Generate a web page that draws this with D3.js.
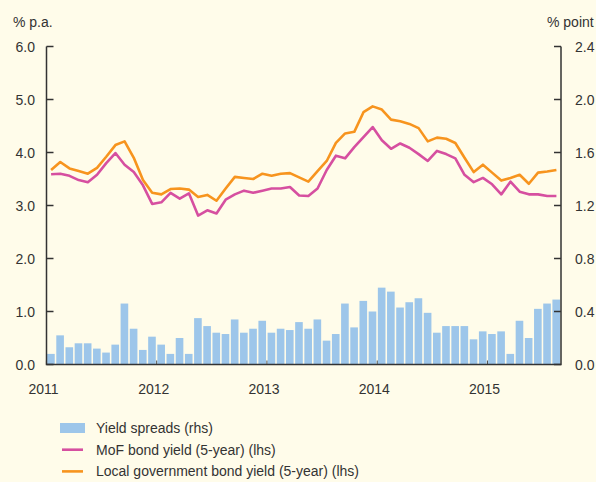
<!DOCTYPE html>
<meta charset='utf-8'>
<style>
html, body {
  margin: 0;
  padding: 0;
  background: #fffcea;
}
svg text {
  font-family: 'Liberation Sans', Arial, sans-serif;
  font-size: 14px;
  fill: #333;
}
</style>
<body>
<div id='chart'></div>
<script src='https://cdn.jsdelivr.net/npm/d3@7/dist/d3.min.js'></script>
<script>

// monthly, Jan 2011 - Aug 2015
var months = d3.range(56).map(function(i) { return new Date(2011, i, 1); });

var spreads = [0.08,0.22,0.13,0.16,0.16,0.12,0.09,0.15,0.46,0.27,
  0.11,0.21,0.15,0.08,0.20,0.08,0.35,0.29,0.24,0.23,
  0.34,0.24,0.27,0.33,0.24,0.27,0.26,0.32,0.27,0.34,
  0.18,0.23,0.46,0.28,0.48,0.40,0.58,0.55,0.43,0.47,
  0.50,0.39,0.24,0.29,0.29,0.29,0.19,0.25,0.23,0.25,
  0.08,0.33,0.20,0.42,0.46,0.49];

var mof = [3.59,3.60,3.56,3.48,3.44,3.58,3.80,3.99,3.77,3.63,
  3.38,3.03,3.06,3.24,3.13,3.23,2.81,2.91,2.85,3.11,
  3.21,3.28,3.24,3.28,3.32,3.32,3.35,3.19,3.18,3.32,
  3.67,3.94,3.89,4.10,4.29,4.48,4.23,4.07,4.17,4.09,
  3.97,3.84,4.03,3.97,3.89,3.58,3.44,3.52,3.40,3.21,
  3.45,3.26,3.21,3.21,3.18,3.18];

var local = [3.67,3.82,3.70,3.65,3.60,3.71,3.92,4.14,4.21,3.90,
  3.48,3.24,3.21,3.31,3.32,3.30,3.16,3.20,3.09,3.32,
  3.54,3.52,3.50,3.60,3.56,3.60,3.61,3.53,3.45,3.65,
  3.84,4.18,4.36,4.39,4.76,4.87,4.81,4.62,4.59,4.54,
  4.46,4.21,4.28,4.26,4.18,3.90,3.63,3.77,3.62,3.47,
  3.52,3.58,3.41,3.62,3.64,3.67];

var leftTicks = [0, 1, 2, 3, 4, 5, 6];
var rightTicks = [0, 0.4, 0.8, 1.2, 1.6, 2.0, 2.4];
var yearTicks = [2011, 2012, 2013, 2014, 2015];

var legendItems = [
  {label: 'Yield spreads (rhs)', type: 'bar', color: '#9dc6ea'},
  {label: 'MoF bond yield (5-year) (lhs)', type: 'line', color: '#d64fa0'},
  {label: 'Local government bond yield (5-year) (lhs)', type: 'line', color: '#f7941e'}
];

var W = 596, H = 482;
var pl = 46.5, pr = 561, pt = 46.5, pb = 364.5;

var svg = d3.select('#chart').append('svg')
    .attr('width', W)
    .attr('height', H);

var step = (pr - pl) / months.length;
var x = d3.scaleLinear().domain([0, months.length]).range([pl, pr]);
var xc = function(i) { return x(i + 0.5); };

var yL = d3.scaleLinear().domain([0, 6]).range([pb, pt]);
var yR = d3.scaleLinear().domain([0, 2.4]).range([pb, pt]);

// year ticks on the x axis
svg.selectAll('.xtick').data(yearTicks).enter().append('line')
    .attr('x1', function(d) { return x((d - 2011) * 12); })
    .attr('x2', function(d) { return x((d - 2011) * 12); })
    .attr('y1', pb)
    .attr('y2', pb - 4)
    .attr('stroke', '#555')
    .attr('stroke-width', 1.2);

// bars
svg.selectAll('.bar').data(spreads).enter().append('rect')
    .attr('x', function(d, i) { return x(i) + 0.6; })
    .attr('width', step * 0.83)
    .attr('y', function(d) { return yR(d); })
    .attr('height', function(d) { return pb - yR(d); })
    .attr('fill', '#9dc6ea');

var line = d3.line()
    .x(function(d, i) { return xc(i); })
    .y(function(d) { return yL(d); });

svg.append('path').datum(mof)
    .attr('d', line)
    .attr('fill', 'none')
    .attr('stroke', '#d64fa0')
    .attr('stroke-width', 2.6)
    .attr('stroke-linejoin', 'round');

svg.append('path').datum(local)
    .attr('d', line)
    .attr('fill', 'none')
    .attr('stroke', '#f7941e')
    .attr('stroke-width', 2.6)
    .attr('stroke-linejoin', 'round');

// axes frame
svg.append('path')
    .attr('d', 'M' + pl + ',' + pt + 'V' + pb + 'H' + pr + 'V' + pt)
    .attr('fill', 'none')
    .attr('stroke', '#333')
    .attr('stroke-width', 1.5);

svg.selectAll('.ltick').data(leftTicks).enter().append('line')
    .attr('x1', pl).attr('x2', pl + 7)
    .attr('y1', function(d) { return yL(d); })
    .attr('y2', function(d) { return yL(d); })
    .attr('stroke', '#333').attr('stroke-width', 1.5);

svg.selectAll('.rtick').data(rightTicks).enter().append('line')
    .attr('x1', pr - 7).attr('x2', pr)
    .attr('y1', function(d) { return yR(d); })
    .attr('y2', function(d) { return yR(d); })
    .attr('stroke', '#333').attr('stroke-width', 1.5);

svg.selectAll('.llab').data(leftTicks).enter().append('text')
    .attr('x', 35)
    .attr('y', function(d) { return yL(d) + 5; })
    .attr('text-anchor', 'end')
    .text(function(d) { return d.toFixed(1); });

svg.selectAll('.rlab').data(rightTicks).enter().append('text')
    .attr('x', 575)
    .attr('y', function(d) { return yR(d) + 5; })
    .text(function(d) { return d.toFixed(1); });

svg.selectAll('.xlab').data(yearTicks).enter().append('text')
    .attr('x', function(d) { return x((d - 2011) * 12) - 3; })
    .attr('y', 394)
    .attr('text-anchor', 'middle')
    .text(function(d) { return d; });

svg.append('text').attr('x', 13).attr('y', 27).text('% p.a.');
svg.append('text').attr('x', 547).attr('y', 27).text('% point');

// legend
var lg = svg.selectAll('.leg').data(legendItems).enter().append('g')
    .attr('transform', function(d, i) { return 'translate(0,' + (428 + i * 21.7) + ')'; });

lg.filter(function(d) { return d.type == 'bar'; }).append('rect')
    .attr('x', 60).attr('y', -5).attr('width', 25).attr('height', 10)
    .attr('fill', function(d) { return d.color; });

lg.filter(function(d) { return d.type == 'line'; }).append('line')
    .attr('x1', 62).attr('x2', 83).attr('y1', 0).attr('y2', 0)
    .attr('stroke', function(d) { return d.color; })
    .attr('stroke-width', 2.6);

lg.append('text')
    .attr('x', 96).attr('y', 5)
    .text(function(d) { return d.label; });

</script>
</body>
